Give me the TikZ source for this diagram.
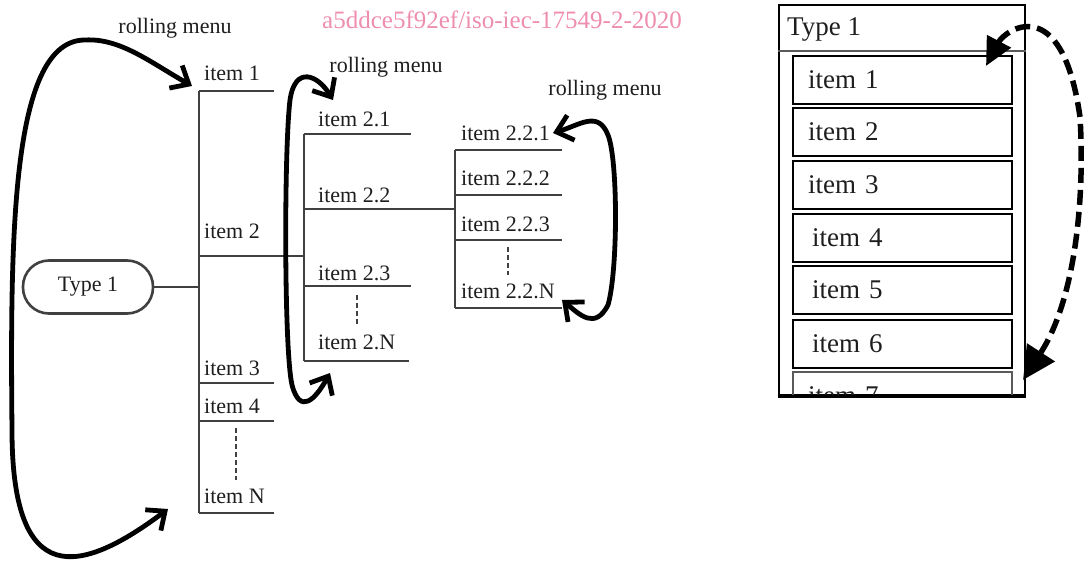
\documentclass[tikz,border=0pt]{standalone}
\usepackage{fontspec}
\setmainfont{Liberation Serif}
\usepackage{xcolor}
\definecolor{treegray}{HTML}{404040}
\definecolor{boxgray}{HTML}{5A5A5A}
\definecolor{inkdark}{HTML}{1E1E1E}
\definecolor{markpink}{HTML}{EE8DB0}
\usetikzlibrary{arrows.meta}
\tikzset{
  tline/.style ={draw=treegray, line width=2.8pt},
  tdots/.style ={draw=treegray, line width=2.8pt, dash pattern=on 5pt off 3pt},
  tlbl/.style  ={anchor=base west, inner sep=0pt, text=inkdark, font=\fontsize{22}{26}\selectfont},
  rlbl/.style  ={anchor=base, inner sep=0pt, text=inkdark, font=\fontsize{22}{26}\selectfont},
  typeoval/.style={draw=treegray, line width=2.6pt, rounded corners=26pt, minimum width=130pt,
                   minimum height=53pt, text=inkdark, font=\fontsize{22}{26}\selectfont},
  rollarr/.style={{Straight Barb[length=15pt,width=26pt]}-{Straight Barb[length=15pt,width=26pt]},
                  line width=4.8pt, draw=black},
  menubox/.style={draw=black, line width=2.6pt, minimum width=219pt, minimum height=48pt,
                  text width=189pt, inner xsep=15pt, align=left, text=inkdark, font=\fontsize{27}{30}\selectfont},
  scrollarr/.style={{Triangle[length=28pt,width=26pt]}-{Triangle[length=33pt,width=32pt]},
                    line width=5.5pt, dash pattern=on 15pt off 7pt, draw=black},
}

\begin{document}
\begin{tikzpicture}[x=1pt, y=-1pt]
  \useasboundingbox (0,0) rectangle (1086,562);

  % stamp across the top
  \node[anchor=base west, inner sep=0pt, text=markpink, font=\fontsize{25}{28}\selectfont] (wm) at (322,28) {a5ddce5f92ef/iso-iec-17549-2-2020};

  % first level
  \node[typeoval] (type) at (88,287) {Type 1};
  \draw[tline] (type.east) -- (199,287);
  \draw[tline] (199,91) -- (199,513);
  \draw[tline] (199,91) -- (274,91);   \node[tlbl] (i1) at (204,80) {item 1};
  \draw[tline] (199,256) -- (304,256); \node[tlbl] (i2) at (204,238) {item 2};
  \draw[tline] (199,383) -- (274,383); \node[tlbl] (i3) at (204,375) {item 3};
  \draw[tline] (199,421) -- (274,421); \node[tlbl] (i4) at (204,413) {item 4};
  \draw[tline] (199,513) -- (274,513); \node[tlbl] (iN) at (204,503) {item N};
  \draw[tdots] (236,428) -- (236,480);

  % second level
  \draw[tline] (304,134) -- (304,361);
  \draw[tline] (304,134) -- (411,134); \node[tlbl] (i21) at (318,126) {item 2.1};
  \draw[tline] (304,209) -- (455,209); \node[tlbl] (i22) at (318,202) {item 2.2};
  \draw[tline] (304,286) -- (411,286); \node[tlbl] (i23) at (318,280) {item 2.3};
  \draw[tline] (304,361) -- (409,361); \node[tlbl] (i2N) at (318,349) {item 2.N};
  \draw[tdots] (357,295) -- (357,324);

  % third level
  \draw[tline] (455,150) -- (455,308);
  \draw[tline] (455,150) -- (562,150); \node[tlbl] (i221) at (461,140) {item 2.2.1};
  \draw[tline] (455,195) -- (562,195); \node[tlbl] (i222) at (461,185) {item 2.2.2};
  \draw[tline] (455,240) -- (562,240); \node[tlbl] (i223) at (461,231) {item 2.2.3};
  \draw[tline] (455,308) -- (562,308); \node[tlbl] (i22N) at (461,298) {item 2.2.N};
  \draw[tdots] (508,247) -- (508,275);

  % rolling arrows
  \node[rlbl] (rm1) at (175,33) {rolling menu};
  \node[rlbl] (rm2) at (386,72) {rolling menu};
  \node[rlbl] (rm3) at (605,95) {rolling menu};
  \coordinate (a1s) at (168,509); \coordinate (a1e) at (192,86);
  \coordinate (a2s) at (330,373); \coordinate (a2e) at (333,100);
  \coordinate (a3s) at (562,300); \coordinate (a3e) at (553,133);
  \draw[rollarr] (a1s) .. controls (80,575) and (12,590) .. (12,430)
                       .. controls (10,230) and (12,40) .. (85,40)
                       .. controls (120,38) and (150,62) .. (a1e);
  \draw[rollarr] (a2s) .. controls (315,400) and (300,415) .. (292,385)
                       .. controls (284,350) and (284,150) .. (290,100)
                       .. controls (295,65) and (318,75) .. (a2e);
  \draw[rollarr] (a3s) .. controls (580,315) and (595,330) .. (608,305)
                       .. controls (618,270) and (618,160) .. (608,135)
                       .. controls (598,110) and (580,125) .. (a3e);

  % scrolling list on the right
  \node[draw=black, line width=2.6pt, minimum width=246pt, minimum height=390pt, inner sep=0pt] (panel) at (902,200) {};
  \node[anchor=base west, inner sep=0pt, text=inkdark, font=\fontsize{27}{30}\selectfont] (hdr) at (787,35) {Type 1};
  \draw[draw=boxgray, line width=2.2pt] (panel.west |- 0,51) -- (panel.east |- 0,51);
  \node[menubox] (m1) at (902.5,80) {item 1};
  \node[menubox] (m2) at (902.5,132) {item 2};
  \node[menubox] (m3) at (902.5,185) {item 3};
  \node[menubox] (m4) at (902.5,238) {\hspace*{4pt}item 4};
  \node[menubox] (m5) at (902.5,290) {\hspace*{4pt}item 5};
  \node[menubox] (m6) at (902.5,344) {\hspace*{4pt}item 6};
  \begin{scope}
    \clip (panel.north west) rectangle (panel.south east);
    \node[menubox, draw=boxgray] (m7) at (902.5,396) {item 7};
  \end{scope}
  \draw[line width=2.6pt] (panel.south west) -- (panel.south east);
  \coordinate (dsA) at (986,66); \coordinate (dsB) at (1023,380);
  \draw[scrollarr] (dsA) .. controls (1005,30) and (1062,-10) .. (1080,117)
                         .. controls (1085,200) and (1075,300) .. (dsB);
\end{tikzpicture}
\end{document}
